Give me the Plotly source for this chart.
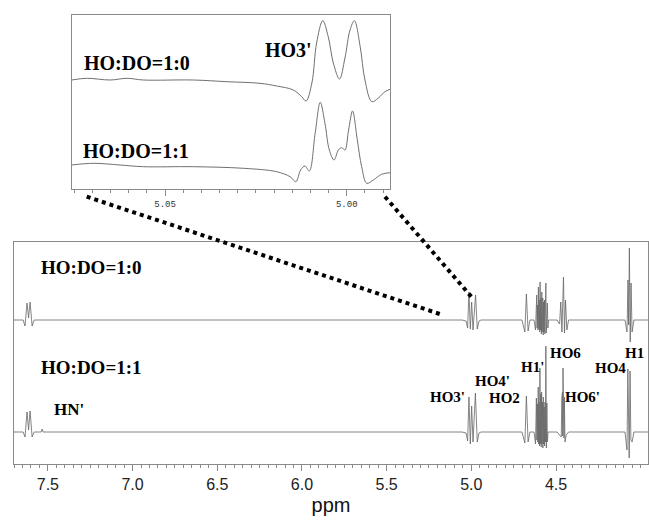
import plotly.graph_objects as go

# ---------------- data ----------------
# Main spectrum, HO:DO = 1:0 (upper trace); intensity relative to its baseline
upper_ppm = [7.700, 7.646, 7.635, 7.623, 7.614, 7.605, 7.593, 7.581,
             5.055, 5.031, 5.022, 5.014, 5.006, 4.998, 4.990, 4.975, 4.965, 4.955, 4.943,
             4.701, 4.684, 4.675, 4.665, 4.654,
             4.630, 4.621, 4.614, 4.6115, 4.609, 4.6065, 4.604, 4.6015, 4.599, 4.5965,
             4.594, 4.5915, 4.589, 4.5865, 4.584, 4.581, 4.578, 4.5755, 4.573, 4.5705,
             4.568, 4.5655, 4.563, 4.5615, 4.560, 4.5575, 4.555, 4.553, 4.551, 4.548, 4.544,
             4.494, 4.479, 4.472, 4.465, 4.456, 4.450, 4.444, 4.436, 4.426,
             4.093, 4.081, 4.075, 4.071, 4.067, 4.062, 4.057, 4.051, 4.040, 3.957]
upper_int = [0, 0, -6, 17, 2, 18, -6, 0,
             0, -1, -8, 28, -9, 18, -10, 25, -9, -1, 0,
             0, -12, 26, -11, 0,
             0, -10, 25, -8, 15, -10, 33, -9, 20, -12,
             38, -10, 22, -14, 28, -12, 22, -15, 18, -12,
             20, -14, 25, -8, 37, -13, 14, -10, 17, -8, 0,
             0, -4, 18, -12, 43, -13, 20, -10, 0,
             0, -12, 40, -5, 72, -22, 37, -12, 0, 0]

# Main spectrum, HO:DO = 1:1 (lower trace)
lower_ppm = [7.700, 7.646, 7.635, 7.623, 7.614, 7.605, 7.593, 7.581, 7.540, 7.534, 7.528,
             5.055, 5.031, 5.022, 5.014, 5.006, 4.998, 4.990, 4.976, 4.965, 4.955, 4.943,
             4.701, 4.684, 4.675, 4.665, 4.654,
             4.630, 4.621, 4.616, 4.613, 4.610, 4.6075, 4.605, 4.6025, 4.600, 4.5975,
             4.595, 4.5925, 4.590, 4.5875, 4.585, 4.5825, 4.580, 4.5775, 4.575, 4.5725,
             4.570, 4.5675, 4.565, 4.5625, 4.560, 4.557, 4.554, 4.551, 4.547,
             4.494, 4.478, 4.469, 4.466, 4.464, 4.462, 4.4605, 4.459, 4.457, 4.455, 4.453,
             4.451, 4.447, 4.440, 4.426,
             4.093, 4.081, 4.076, 4.072, 4.068, 4.063, 4.058, 4.051, 4.040, 3.957]
lower_int = [0, 0, -5, 20, 2, 21, -5, 0, 0, 3, 0,
             0, -1, -9, 35, -12, 26, -10, 39, -10, -1, 0,
             0, -11, 36, -10, 0,
             0, -12, 34, -8, 28, -10, 45, -12, 30, -14,
             64, -12, 38, -15, 40, -12, 30, -16, 35, -12,
             25, -14, 30, -10, 86, -16, 29, -10, 0,
             0, -3, -5, 34, -3, 40, -4, 64, -5, 45, -6,
             35, -10, -3, 0,
             0, -18, 63, 10, -26, 61, -8, -10, 0, 0]

# Inset (expanded HO3' region)
inset_upper_ppm = [5.0757, 5.0716, 5.0651, 5.0605, 5.0560, 5.0422, 5.0330, 5.0239, 5.0193,
                   5.0147, 5.0124, 5.0112, 5.0096, 5.0083, 5.0066, 5.0051, 5.0037, 5.0020,
                   5.0005, 4.9991, 4.9979, 4.9963, 4.9950, 4.9931, 4.9913, 4.9895, 4.9881]
inset_upper_int = [0, 1.7, 0, 1.7, 0, 0, -1.7, -3.3, -6,
                   -10, -16.7, -21, -3, 37, 59.3, 43.3, 17, 1,
                   22, 50, 59.3, 33.3, 0, -21.7, -18, -11.7, -9.3]
inset_lower_ppm = [5.0757, 5.0697, 5.0624, 5.0560, 5.0422, 5.0284, 5.0193, 5.0156, 5.0140,
                   5.0127, 5.0115, 5.0103, 5.0087, 5.0073, 5.0060, 5.0048, 5.0035, 5.0023,
                   5.0014, 5.0005, 4.9995, 4.9984, 4.9971, 4.9959, 4.9945, 4.9927, 4.9904, 4.9881]
inset_lower_int = [0, 1.7, 0, -1.7, -1.7, -3.3, -6.7, -11.7, -16.7,
                   -5, -1, -6, 31.7, 62.7, 41.7, 15, 5, 15,
                   17.3, 15, 35, 54, 25, -1.7, -18.3, -15, -9.3, -7.7]

main_tick_vals = [7.5, 7.0, 6.5, 6.0, 5.5, 5.0, 4.5]
inset_tick_vals = [5.05, 5.00]

# ---------------- layout constants ----------------
W, H = 649, 525
ML, MR, MT, MB = 14, 1, 15, 61
PW, PH = W - ML - MR, H - MT - MB

def px(x, y):
    return (x - ML) / PW, (H - MB - y) / PH

UP_OFF, LO_OFF = 144, 32          # baselines in the main panel
IN_UP_OFF, IN_LO_OFF = 109.3, 24.3  # baselines in the inset
LINE = "#666666"
AXC = "#8a8a8a"
SERIF = "Liberation Serif, Times New Roman, serif"

fig = go.Figure()
fig.add_trace(go.Scatter(x=upper_ppm, y=[v + UP_OFF for v in upper_int], mode="lines",
                         line=dict(color=LINE, width=0.8), xaxis="x", yaxis="y"))
fig.add_trace(go.Scatter(x=lower_ppm, y=[v + LO_OFF for v in lower_int], mode="lines",
                         line=dict(color=LINE, width=0.8), xaxis="x", yaxis="y"))
fig.add_trace(go.Scatter(x=inset_upper_ppm, y=[v + IN_UP_OFF for v in inset_upper_int],
                         mode="lines", line=dict(color="#707070", width=1, shape="spline"),
                         xaxis="x2", yaxis="y2"))
fig.add_trace(go.Scatter(x=inset_lower_ppm, y=[v + IN_LO_OFF for v in inset_lower_int],
                         mode="lines", line=dict(color="#707070", width=1, shape="spline"),
                         xaxis="x2", yaxis="y2"))

main_top = px(0, 242)[1]
ix0, iy1 = px(71.7, 15)
ix1, iy0 = px(390, 189.3)

fig.update_layout(
    width=W, height=H, showlegend=False,
    paper_bgcolor="white", plot_bgcolor="white",
    margin=dict(l=ML, r=MR, t=MT, b=MB),
    xaxis=dict(domain=[0, 1], range=[7.70, 3.957], anchor="y",
               showline=True, mirror=True, linecolor=AXC, linewidth=1,
               ticks="outside", ticklen=6, tickcolor=AXC, tickwidth=1,
               tickvals=main_tick_vals, ticktext=[f"{v:.1f}" for v in main_tick_vals],
               minor=dict(dtick=0.05, tick0=0, ticks="outside", ticklen=3, tickcolor=AXC),
               tickfont=dict(family="Liberation Sans, Arial", size=16, color="#222"),
               title=dict(text="ppm", font=dict(family="Liberation Sans, Arial", size=20,
                                                color="#111"), standoff=5),
               showgrid=False, zeroline=False),
    yaxis=dict(domain=[0, main_top], range=[0, 222], anchor="x",
               showline=True, mirror=True, linecolor=AXC, linewidth=1,
               showticklabels=False, ticks="", showgrid=False, zeroline=False),
    xaxis2=dict(domain=[ix0, ix1], range=[5.0757, 4.9881], anchor="y2",
                showline=True, mirror=True, linecolor=AXC, linewidth=1,
                ticks="outside", ticklen=6, tickcolor=AXC,
                tickvals=inset_tick_vals, ticktext=[f"{v:.2f}" for v in inset_tick_vals],
                minor=dict(dtick=0.005, tick0=0, ticks="outside", ticklen=3, tickcolor=AXC),
                tickfont=dict(family="Liberation Mono, DejaVu Sans Mono", size=9, color="#333"),
                showgrid=False, zeroline=False),
    yaxis2=dict(domain=[iy0, iy1], range=[0, 174.3], anchor="x2",
                showline=True, mirror=True, linecolor=AXC, linewidth=1,
                showticklabels=False, ticks="", showgrid=False, zeroline=False),
)

# dotted connector lines between the inset and the main spectrum
for (xa, ya), (xb, yb) in [((86.7, 196.7), (442.7, 315)), ((385, 196.7), (472.7, 298.3))]:
    a, b = px(xa, ya), px(xb, yb)
    fig.add_shape(type="line", xref="paper", yref="paper", x0=a[0], y0=a[1], x1=b[0], y1=b[1],
                  line=dict(color="black", width=4, dash="dot"))

labels = [
    ("HO:DO=1:0", 91.5, 267, 19), ("HO:DO=1:1", 91, 367, 19), ("HN'", 69, 409.5, 17),
    ("HO3'", 447.5, 397, 15), ("HO4'", 492.5, 381.5, 15), ("HO2", 504.5, 398, 15),
    ("H1'", 532, 366.5, 15), ("HO6", 565, 352.5, 15), ("HO6'", 582, 397, 15),
    ("HO4", 610, 368, 15), ("H1", 634, 352.5, 15),
    ("HO:DO=1:0", 136.7, 63.5, 20), ("HO:DO=1:1", 135.5, 150.5, 20), ("HO3'", 288.5, 50, 20),
]
for t, x, y, s in labels:
    p = px(x, y)
    fig.add_annotation(x=p[0], y=p[1], xref="paper", yref="paper", text=f"<b>{t}</b>",
                       showarrow=False, xanchor="center", yanchor="middle",
                       font=dict(family=SERIF, size=s, color="black"))

# the page's default 8px body margin would shift the figure; remove it
fig.write_html("out.html", config={"displayModeBar": False},
               post_script="document.body.style.margin='0';document.body.style.overflow='hidden';")
